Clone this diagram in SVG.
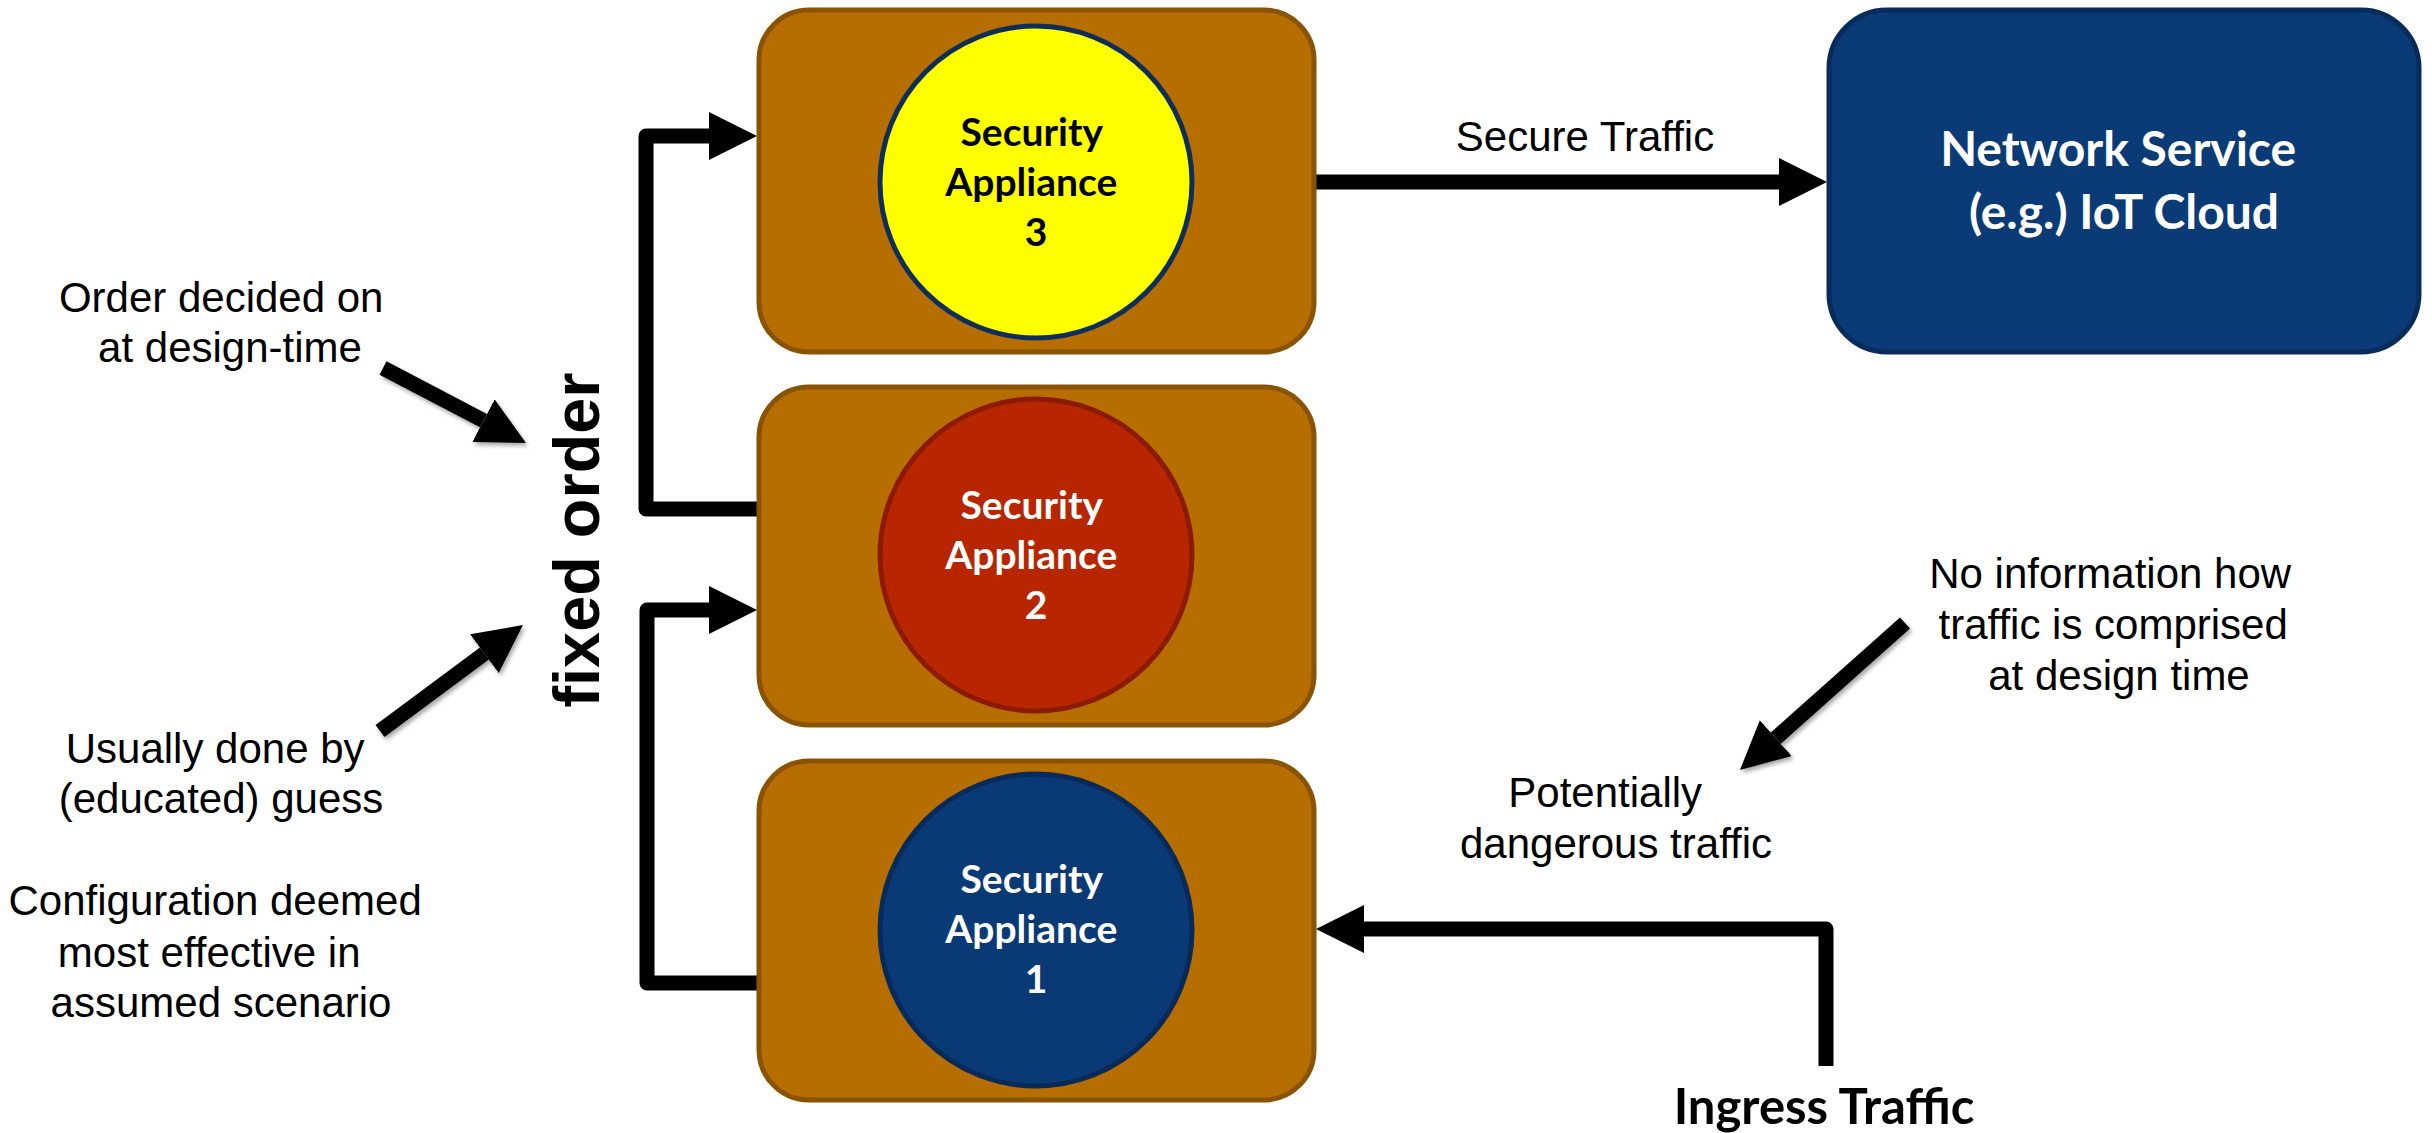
<svg xmlns="http://www.w3.org/2000/svg" width="2432" height="1133" viewBox="0 0 2432 1133">
  <defs>
    <style>
      .slot { fill: #B76E00; stroke: #8A5300; stroke-width: 5; }
      .appl { stroke-width: 5; }
      .lbl { font-family: "Lato", "Liberation Sans", sans-serif; font-weight: 700; font-size: 39px; text-anchor: middle; }
      .note { font-family: "Liberation Sans", Arial, sans-serif; font-size: 42px; fill: #000; text-anchor: middle; }
      .wire { fill: none; stroke: #000; stroke-width: 15; stroke-linejoin: round; marker-end: url(#head); }
      .hint { fill: none; stroke: #000; stroke-width: 15; marker-end: url(#head); filter: url(#shade); }
    </style>
    <marker id="head" viewBox="0 0 48 48" refX="0" refY="24" markerWidth="48" markerHeight="48" markerUnits="userSpaceOnUse" orient="auto">
      <path d="M0 0 L48 24 L0 48 Z" fill="#000"/>
    </marker>
    <filter id="shade" filterUnits="userSpaceOnUse" x="0" y="0" width="2432" height="1133">
      <feDropShadow dx="2" dy="3" stdDeviation="2" flood-color="#000" flood-opacity="0.35"/>
    </filter>
  </defs>

  <rect width="2432" height="1133" fill="#fff"/>

  <!-- chain connectors and callout arrows -->
  <g id="connectors">
    <path class="wire" d="M757 509 H646 V136 H709"/>
    <path class="wire" d="M757 983 H647 V610 H709"/>
    <path class="wire" d="M1315 182 H1779"/>
    <path class="wire" d="M1826 1066 V929 H1364"/>
    <path class="hint" d="M383 368 L483.5 420.7"/>
    <path class="hint" d="M380 731 L484.4 653.6"/>
    <path class="hint" d="M1905 623 L1775.8 738.1"/>
  </g>

  <g id="appliance3">
    <rect class="slot" x="759" y="10" width="555" height="342" rx="50" ry="50"/>
    <circle class="appl" cx="1036" cy="182" r="156" fill="#FFFF00" stroke="#0D2D5B"/>
    <text class="lbl" fill="#000">
      <tspan x="1036" y="146">Security</tspan>
      <tspan x="1036" y="196">Appliance</tspan>
      <tspan x="1036" y="246">3</tspan>
    </text>
  </g>

  <g id="appliance2">
    <rect class="slot" x="759" y="387" width="555" height="338" rx="50" ry="50"/>
    <circle class="appl" cx="1036" cy="555" r="156" fill="#B82600" stroke="#8B1B00"/>
    <text class="lbl" fill="#fff">
      <tspan x="1036" y="519">Security</tspan>
      <tspan x="1036" y="569">Appliance</tspan>
      <tspan x="1036" y="619">2</tspan>
    </text>
  </g>

  <g id="appliance1">
    <rect class="slot" x="759" y="761" width="555" height="339" rx="50" ry="50"/>
    <circle class="appl" cx="1036" cy="930" r="156" fill="#0A3A75" stroke="#072A5A"/>
    <text class="lbl" fill="#fff">
      <tspan x="1036" y="893">Security</tspan>
      <tspan x="1036" y="943">Appliance</tspan>
      <tspan x="1036" y="993">1</tspan>
    </text>
  </g>

  <g id="network-service">
    <rect x="1829" y="10" width="590" height="342" rx="58" ry="58" fill="#0A3B76" stroke="#072C5C" stroke-width="5"/>
    <text class="lbl" fill="#fff" style="font-size:48px">
      <tspan x="2124" y="166">Network Service</tspan>
      <tspan x="2124" y="229">(e.g.) IoT Cloud</tspan>
    </text>
  </g>

  <g id="ingress">
    <text class="lbl" fill="#000" x="1824" y="1124" style="font-size:49px">Ingress Traffic</text>
  </g>

  <g id="fixed-order">
    <text transform="translate(599 540) rotate(-90)" x="0" y="0" font-family="Liberation Sans, Arial, sans-serif" font-weight="700" font-size="64" text-anchor="middle" textLength="335" lengthAdjust="spacingAndGlyphs" fill="#000">fixed order</text>
  </g>

  <g id="annotations">
    <text class="note" x="1585" y="151">Secure Traffic</text>
    <text class="note">
      <tspan x="227" y="312">Order decided on</tspan>
      <tspan x="230" y="362">at design-time</tspan>
    </text>
    <text class="note">
      <tspan x="221" y="763">Usually done by</tspan>
      <tspan x="221" y="813">(educated) guess</tspan>
    </text>
    <text class="note">
      <tspan x="221" y="915">Configuration deemed</tspan>
      <tspan x="215" y="967">most effective in</tspan>
      <tspan x="221" y="1017">assumed scenario</tspan>
    </text>
    <text class="note">
      <tspan x="2116" y="588">No information how</tspan>
      <tspan x="2119" y="639">traffic is comprised</tspan>
      <tspan x="2119" y="690">at design time</tspan>
    </text>
    <text class="note">
      <tspan x="1611" y="807">Potentially</tspan>
      <tspan x="1616" y="858">dangerous traffic</tspan>
    </text>
  </g>
</svg>
